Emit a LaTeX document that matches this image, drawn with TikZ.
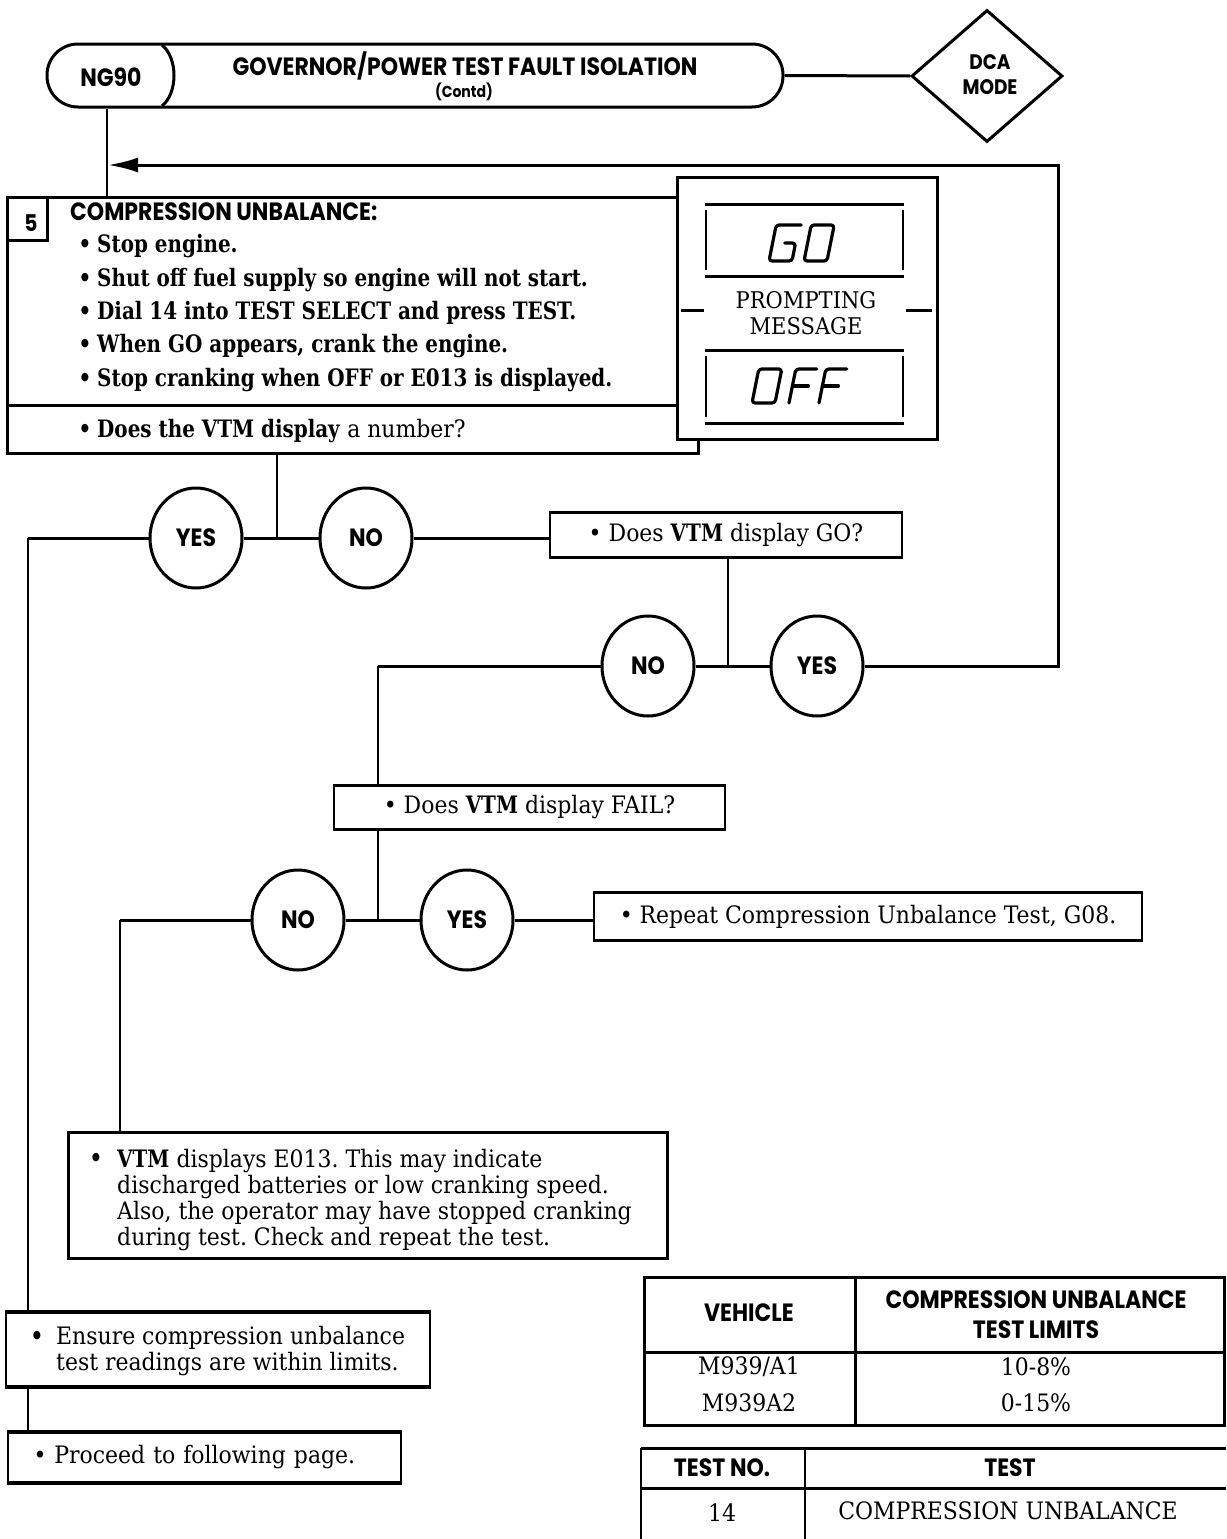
\documentclass[tikz,border=0pt]{standalone}
\usepackage{fontspec}
\setmainfont{DejaVu Serif}[FakeStretch=0.915, BoldFeatures={FakeStretch=0.83}]
\newfontfamily\hd{Poppins}[FakeStretch=0.88]
\usetikzlibrary{shapes.geometric,arrows.meta,calc}
\frenchspacing
\tikzset{
  lw/.style={line width=3pt},
  thin/.style={line width=1.6pt},
  txt/.style={inner sep=0pt, font=\fontsize{24}{26}\selectfont},
  btxt/.style={inner sep=0pt, font=\fontsize{24}{26}\selectfont\bfseries},
  hdt/.style={inner sep=0pt, font=\fontsize{25}{30}\selectfont\hd\bfseries, align=center},
  dec/.style={ellipse, draw, line width=3pt, minimum width=92pt, minimum height=100pt, inner sep=0pt, font=\fontsize{25}{28}\selectfont\hd\bfseries},
  qbox/.style={draw, thin, inner sep=0pt, font=\fontsize{24}{26}\selectfont},
  seg/.style={line width=3.2pt, line cap=round, line join=round, rounded corners=3pt},
}
\newcommand\tb[1]{\draw[lw] (#1.north west) -- (#1.north east); \draw[lw] (#1.south west) -- (#1.south east);}
\begin{document}
\frenchspacing
\begin{tikzpicture}[x=1pt,y=-1pt]
\useasboundingbox (0,0) rectangle (1226,1539);

% header
\node[draw, lw, rounded corners=31pt, minimum width=736pt, minimum height=63pt, inner sep=0pt] (hdr) at (415,75.5) {};
\draw[lw] (162,45) .. controls (178,58) and (178,93) .. (162,106);
\node[hdt, font=\fontsize{25}{28}\selectfont\hd\bfseries] (ng) at (111,77) {NG90};
\node[hdt] (ttl) at (465,66) {GOVERNOR/POWER TEST FAULT ISOLATION};
\node[hdt, font=\fontsize{16}{20}\selectfont\hd\bfseries] (ctd) at (464,92) {(Contd)};
\node[diamond, draw, lw, minimum width=151pt, minimum height=132pt, inner sep=0pt, aspect=1.15] (dca) at (987,76) {};
\node[hdt, font=\fontsize{21}{25}\selectfont\hd\bfseries] (dcat) at (990,75) {DCA\\MODE};
\draw[lw] (hdr.east) -- (dca.west);

% box 5
\node[draw, lw, minimum width=691pt, minimum height=256pt, anchor=north west, inner sep=0pt] (b5) at (6,196) {};
\node[draw, lw, fill=white, minimum width=260pt, minimum height=262pt, anchor=north west, inner sep=0pt] (pm) at (676,176) {};
\draw[lw] (6,405) -- (676,405);
\draw[lw] (8,240) -- (47,240) -- (47,196);
\node[hdt, font=\fontsize{23}{26}\selectfont\hd\bfseries] (n5) at (31,223) {5};
\node[hdt, anchor=west] (cu) at (70,212) {COMPRESSION UNBALANCE:};
\foreach \yy/\tt [count=\i] in {246/Stop engine., 280/Shut off fuel supply so engine will not start., 313/Dial 14 into TEST SELECT and press TEST., 346/{When GO appears, crank the engine.}, 380/Stop cranking when OFF or E013 is displayed.}{
  \node[btxt] (bul\i) at (85,\yy) {•};
  \node[btxt, anchor=west] (l\i) at (97,\yy) {\tt};
}
\node[btxt] (bulq) at (85,431) {•};
\node[txt, anchor=west] (q1) at (97,431) {\textbf{Does the VTM display} a number?};

% prompting message
\draw[lw] (705,204) -- (904,204); \draw[lw] (705,276) -- (904,276);
\draw[thin] (706,210) -- (706,270); \draw[thin] (903,210) -- (903,270);
\draw[lw] (705,350) -- (904,350); \draw[lw] (705,423) -- (904,423);
\draw[thin] (706,356) -- (706,417); \draw[thin] (903,356) -- (903,417);
\draw[lw] (681,310) -- (704,310); \draw[lw] (906,310) -- (932,310);
\node[txt, align=center, font=\fontsize{23}{26}\selectfont] (pmt) at (806,313) {PROMPTING\\MESSAGE};
% GO
\begin{scope}[shift={(769,261)}, xslant=0.2]
  \draw[seg] (25,-36) -- (0,-36) -- (0,0) -- (23,0) -- (23,-18) -- (12,-18);
\end{scope}
\begin{scope}[shift={(804,261)}, xslant=0.2]
  \draw[seg] (0,-36) rectangle (23,0);
\end{scope}
% OFF
\begin{scope}[shift={(752,403)}, xslant=0.2]
  \draw[seg] (0,-34) rectangle (23,0);
\end{scope}
\begin{scope}[shift={(789,403)}, xslant=0.2]
  \draw[seg] (21,-34) -- (0,-34) -- (0,0); \draw[seg] (0,-17) -- (16,-17);
\end{scope}
\begin{scope}[shift={(819,403)}, xslant=0.2]
  \draw[seg] (21,-34) -- (0,-34) -- (0,0); \draw[seg] (0,-17) -- (16,-17);
\end{scope}

% loop-back arrow
\coordinate (ngx) at (107,0);
\draw[thin] (hdr.south -| ngx) -- (b5.north -| ngx);
\coordinate (atip) at (108,165);

% first decision
\coordinate (j1) at (277,538);
\coordinate (lx) at (28,538);
\node[dec] (yes1) at (196,538) {YES};
\node[dec] (no1) at (366,538) {NO};
\node[qbox, minimum width=352pt, minimum height=44pt] (gob) at (726,535) {• Does \textbf{VTM} display GO?};
\tb{gob}
\draw[thin] (b5.south -| j1) -- (j1);
\draw[lw] (yes1.east) -- (no1.west);
\draw[lw] (no1.east) -- (no1.east -| gob.west);
\draw[lw] (yes1.west) -- (lx);

% second decision
\coordinate (j2) at (728,666);
\coordinate (lx2) at (378,666);
\node[dec] (no2) at (648,666) {NO};
\node[dec] (yes2) at (817,666) {YES};
\draw[thin] (gob.south -| j2) -- (j2);
\draw[lw] (no2.east) -- (yes2.west);
\draw[lw, -{Latex[length=30pt,width=15pt]}] (yes2.east) -- (1058,666) -- (1058,165) -- (atip);

\node[qbox, minimum width=391pt, minimum height=43pt] (fail) at (529.5,807.5) {• Does \textbf{VTM} display FAIL?};
\tb{fail}
\draw[lw] (no2.west) -- (lx2);
\draw[thin] (lx2) -- (lx2 |- fail.north);

% third decision
\coordinate (j3) at (378,920);
\coordinate (lx3) at (120,920);
\node[dec] (no3) at (298,920) {NO};
\node[dec] (yes3) at (467,920) {YES};
\node[qbox, minimum width=548pt, minimum height=47pt] (rep) at (868,916.5) {• Repeat Compression Unbalance Test, G08.};
\tb{rep}
\draw[thin] (fail.south -| j3) -- (j3);
\draw[lw] (no3.east) -- (yes3.west);
\draw[lw] (yes3.east) -- (yes3.east -| rep.west);
\draw[lw] (no3.west) -- (lx3);

% E013 box
\node[draw, lw, minimum width=599pt, minimum height=126pt, inner sep=0pt] (e13) at (367.5,1195) {};
\draw[thin] (lx3) -- (lx3 |- e13.north);
\node[btxt] (eb) at (96,1160) {•};
\node[txt, anchor=north west, align=left] (et) at (117,1149) {\textbf{VTM} displays E013. This may indicate\\discharged batteries or low cranking speed.\\Also, the operator may have stopped cranking\\during test. Check and repeat the test.};

% Ensure / Proceed
\node[qbox, line width=2.2pt, minimum width=424pt, minimum height=73pt] (ens) at (218,1349.5) {};
\tb{ens}
\node[btxt] (enb) at (37,1338) {•};
\node[txt, anchor=north west, align=left] (ent) at (56,1326) {Ensure compression unbalance\\test readings are within limits.};
\node[qbox, line width=2.2pt, minimum width=393pt, minimum height=49pt, text width=370pt, align=left] (proc) at (204.5,1457.5) {\hspace*{14pt}• Proceed to following page.};
\tb{proc}
\draw[thin] (lx) -- (lx |- ens.north);
\draw[thin] (lx |- ens.south) -- (lx |- proc.north);

% table 1
\draw[lw] (644,1277) rectangle (1224,1425);
\draw[lw] (644,1352) -- (1224,1352);
\draw[lw] (855,1277) -- (855,1425);
\node[hdt] (tv) at (749,1313) {VEHICLE};
\node[hdt] (tl) at (1036,1315) {COMPRESSION UNBALANCE\\TEST LIMITS};
\node[txt] (r1a) at (749,1367) {M939/A1};
\node[txt] (r2a) at (749,1403) {M939A2};
\node[txt] (r1b) at (1036,1367) {10-8\%};
\node[txt] (r2b) at (1036,1403) {0-15\%};

% table 2
\draw[lw] (641,1448) -- (1226,1448);
\draw[lw] (641,1488) -- (1226,1488);
\draw[thin] (641,1448) -- (641,1539);
\draw[thin] (805,1448) -- (805,1539);
\node[hdt] (tn) at (722,1468) {TEST NO.};
\node[hdt] (tt) at (1010,1468) {TEST};
\node[txt] (c14) at (722,1513) {14};
\node[txt] (ccu) at (1008,1511) {COMPRESSION UNBALANCE};
\end{tikzpicture}
\end{document}
